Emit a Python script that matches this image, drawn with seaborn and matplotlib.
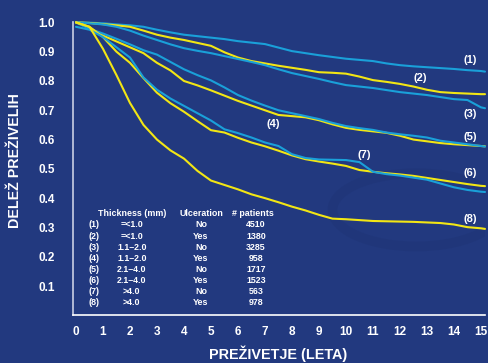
import numpy as np
import pandas as pd
import matplotlib
matplotlib.use("Agg")
import matplotlib.pyplot as plt
from matplotlib.patches import Ellipse
import seaborn as sns

# Survival time grid (years)
years = [0, 0.5, 1, 1.5, 2, 2.5, 3, 3.5, 4, 4.5, 5, 5.5, 6, 6.5, 7, 7.5,
         8, 8.5, 9, 9.5, 10, 10.5, 11, 11.5, 12, 12.5, 13, 13.5, 14, 14.5, 15, 15.15]

# Proportion surviving for each group
surv_1 = [1.0, 0.999, 0.997, 0.993, 0.99, 0.985, 0.975, 0.966, 0.958, 0.953, 0.948, 0.943,
          0.936, 0.931, 0.926, 0.914, 0.902, 0.895, 0.888, 0.882, 0.876, 0.872, 0.868,
          0.86, 0.854, 0.85, 0.847, 0.844, 0.841, 0.837, 0.834, 0.832]
surv_2 = [1.0, 0.998, 0.994, 0.99, 0.985, 0.972, 0.958, 0.948, 0.94, 0.93, 0.92, 0.898,
          0.88, 0.868, 0.86, 0.852, 0.845, 0.838, 0.83, 0.828, 0.825, 0.815, 0.803, 0.797,
          0.79, 0.781, 0.77, 0.762, 0.759, 0.757, 0.755, 0.755]
surv_3 = [1.0, 0.997, 0.993, 0.985, 0.972, 0.955, 0.94, 0.925, 0.912, 0.903, 0.895, 0.885,
          0.875, 0.865, 0.854, 0.84, 0.827, 0.817, 0.807, 0.796, 0.786, 0.781, 0.776,
          0.769, 0.762, 0.757, 0.752, 0.745, 0.738, 0.735, 0.71, 0.707]
surv_4 = [1.0, 0.982, 0.955, 0.935, 0.915, 0.895, 0.862, 0.836, 0.8, 0.785, 0.768, 0.75,
          0.732, 0.716, 0.7, 0.684, 0.68, 0.676, 0.666, 0.652, 0.64, 0.633, 0.628, 0.623,
          0.613, 0.6, 0.594, 0.588, 0.584, 0.581, 0.578, 0.577]
surv_5 = [1.0, 0.978, 0.962, 0.944, 0.925, 0.905, 0.89, 0.865, 0.84, 0.82, 0.802, 0.778,
          0.752, 0.733, 0.716, 0.7, 0.69, 0.68, 0.67, 0.657, 0.646, 0.639, 0.633, 0.624,
          0.618, 0.613, 0.607, 0.596, 0.59, 0.584, 0.578, 0.576]
surv_6 = [1.0, 0.985, 0.95, 0.9, 0.862, 0.81, 0.76, 0.724, 0.695, 0.663, 0.632, 0.624,
          0.606, 0.59, 0.577, 0.562, 0.546, 0.533, 0.525, 0.518, 0.51, 0.496, 0.49, 0.485,
          0.481, 0.476, 0.469, 0.462, 0.455, 0.448, 0.442, 0.441]
surv_7 = [0.985, 0.975, 0.95, 0.915, 0.88, 0.812, 0.77, 0.74, 0.715, 0.69, 0.665, 0.635,
          0.622, 0.607, 0.59, 0.578, 0.55, 0.537, 0.532, 0.531, 0.53, 0.523, 0.49, 0.482,
          0.477, 0.47, 0.463, 0.45, 0.437, 0.428, 0.422, 0.421]
surv_8 = [1.0, 0.985, 0.91, 0.82, 0.725, 0.65, 0.6, 0.563, 0.535, 0.493, 0.46, 0.445,
          0.43, 0.413, 0.4, 0.386, 0.371, 0.358, 0.343, 0.33, 0.328, 0.325, 0.322, 0.321,
          0.32, 0.319, 0.317, 0.315, 0.31, 0.301, 0.297, 0.295]

groups = ["(1)", "(2)", "(3)", "(4)", "(5)", "(6)", "(7)", "(8)"]
thickness = ["=<1.0", "=<1.0", "1.1\u20132.0", "1.1\u20132.0",
             "2.1\u20134.0", "2.1\u20134.0", ">4.0", ">4.0"]
ulceration = ["No", "Yes", "No", "Yes", "No", "Yes", "No", "Yes"]
patients = [4510, 1380, 3285, 958, 1717, 1523, 563, 978]

x_ticks = list(range(0, 16))
y_ticks = [0.1, 0.2, 0.3, 0.4, 0.5, 0.6, 0.7, 0.8, 0.9, 1.0]

BG = "#22397f"
CYAN = "#1aa0d9"
YELLOW = "#f2e614"
WHITE = "#ffffff"

all_surv = [surv_1, surv_2, surv_3, surv_4, surv_5, surv_6, surv_7, surv_8]
df = pd.concat([pd.DataFrame({"years": years, "survival": s, "group": g})
                for g, s in zip(groups, all_surv)], ignore_index=True)
palette = {g: (CYAN if u == "No" else YELLOW) for g, u in zip(groups, ulceration)}

sns.set_style("white", {"axes.facecolor": BG, "figure.facecolor": BG})
plt.rcParams["font.family"] = ["Liberation Sans", "DejaVu Sans"]
plt.rcParams["font.weight"] = "bold"

fig = plt.figure(figsize=(4.89, 3.63), dpi=100)
fig.patch.set_facecolor(BG)
ax = fig.add_axes([73 / 489, 1 - 315.3 / 363, 412 / 489, 292.9 / 363])
ax.set_facecolor(BG)

# faint background swirl
ax.add_patch(Ellipse((12.6, 0.36), 6.2, 0.25, fill=False, edgecolor="#1b2f6c",
                     linewidth=7, alpha=0.25, zorder=0.5))

sns.lineplot(data=df, x="years", y="survival", hue="group", palette=palette,
             linewidth=1.5, legend=False, ax=ax, estimator=None, sort=False)
for ln in ax.get_lines():
    ln.set_clip_on(False)

ax.set_xlim(-0.11, 15.15)
ax.set_ylim(0, 1.0)
ax.set_xticks(x_ticks)
ax.set_xticklabels([str(v) for v in x_ticks])
ax.set_yticks(y_ticks)
ax.set_yticklabels([f"{v:.1f}" for v in y_ticks])
ax.tick_params(axis="both", length=0, colors=WHITE, labelsize=8.5)
ax.tick_params(axis="y", pad=13)
ax.tick_params(axis="x", pad=8)
for lab in ax.get_xticklabels() + ax.get_yticklabels():
    lab.set_fontweight("bold")

for side in ["top", "right"]:
    ax.spines[side].set_visible(False)
ax.spines["left"].set_color("#c9cfe3")
ax.spines["bottom"].set_color(WHITE)
ax.spines["left"].set_linewidth(1.2)
ax.spines["bottom"].set_linewidth(1.2)

ax.set_xlabel("")
ax.set_ylabel("")
fig.text(278 / 489, 1 - 354 / 363, "PRE\u017dIVETJE (LETA)", color=WHITE, fontsize=10.4,
         fontweight="bold", ha="center", va="center")
fig.text(15 / 489, 1 - 161 / 363, "DELE\u017d PRE\u017dIVELIH", color=WHITE, fontsize=10.3,
         fontweight="bold", ha="center", va="center", rotation=90)

# Curve labels
curve_labels = {"(1)": (14.6, 0.871), "(2)": (12.74, 0.81), "(3)": (14.6, 0.687),
                "(4)": (7.3, 0.653), "(5)": (14.6, 0.608), "(6)": (14.6, 0.486),
                "(7)": (10.67, 0.547), "(8)": (14.6, 0.329)}
for g, (tx, ty) in curve_labels.items():
    ax.text(tx, ty, g, color=WHITE, fontsize=8, fontweight="bold", ha="center", va="center")

# Group table
col_x = [0.67, 2.07, 4.63, 6.67]
ax.text(2.07, 0.347, "Thickness (mm)", color=WHITE, fontsize=6.4, fontweight="bold", ha="center", va="center")
ax.text(4.63, 0.347, "Ulceration", color=WHITE, fontsize=6.4, fontweight="bold", ha="center", va="center")
ax.text(6.56, 0.347, "# patients", color=WHITE, fontsize=6.4, fontweight="bold", ha="center", va="center")
row_y = [0.311, 0.268, 0.231, 0.193, 0.156, 0.118, 0.081, 0.043]
for i, ry in enumerate(row_y):
    cells = [groups[i], thickness[i], ulceration[i], str(patients[i])]
    for cx, txt in zip(col_x, cells):
        ax.text(cx, ry, txt, color=WHITE, fontsize=6.4, fontweight="bold", ha="center", va="center")

fig.savefig("out.png", dpi=100, facecolor=BG)
